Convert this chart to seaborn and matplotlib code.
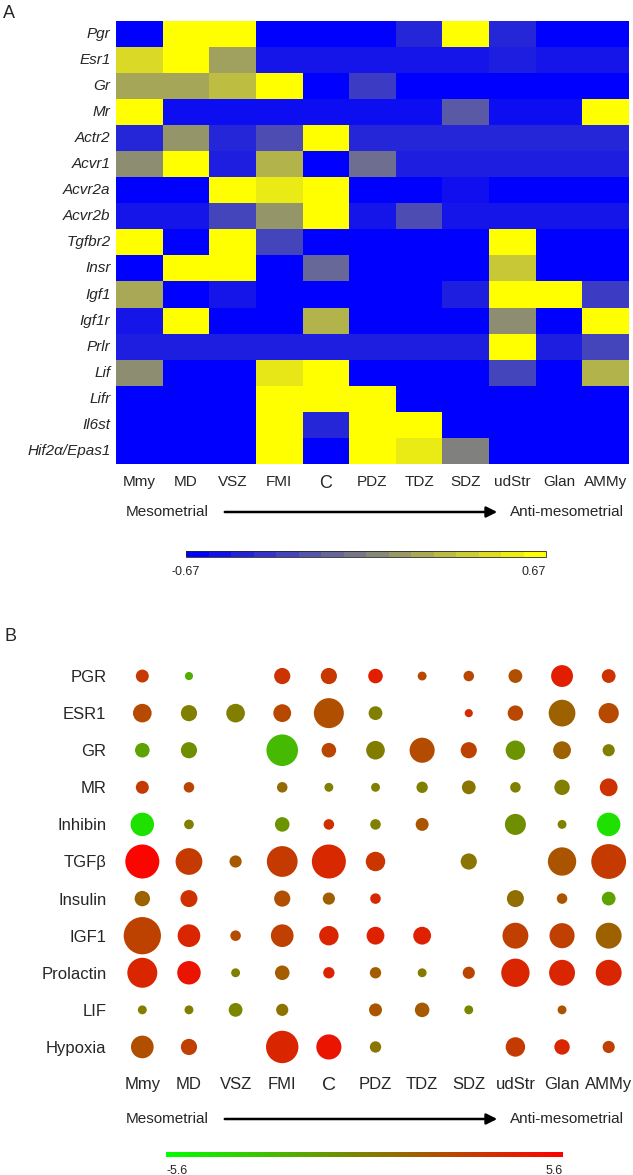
import numpy as np
import pandas as pd
import matplotlib
matplotlib.use("Agg")
import matplotlib.pyplot as plt
import seaborn as sns
from matplotlib.colors import LinearSegmentedColormap, Normalize
from matplotlib.cm import ScalarMappable

sns.set_style("white")
plt.rcParams["font.family"] = ["Liberation Sans", "DejaVu Sans"]

# ---------------- data ----------------
regions = ["Mmy", "MD", "VSZ", "FMI", "C", "PDZ", "TDZ", "SDZ", "udStr", "Glan", "AMMy"]

genes = ["Pgr", "Esr1", "Gr", "Mr", "Actr2", "Acvr1", "Acvr2a", "Acvr2b", "Tgfbr2",
         "Insr", "Igf1", "Igf1r", "Prlr", "Lif", "Lifr", "Il6st", "Hif2α/Epas1"]

h_pgr    = [-0.67, 0.67, 0.67, -0.67, -0.67, -0.67, -0.47, 0.67, -0.47, -0.67, -0.67]
h_esr1   = [0.47, 0.67, 0.17, -0.56, -0.56, -0.56, -0.56, -0.56, -0.51, -0.56, -0.56]
h_gr     = [0.20, 0.20, 0.32, 0.67, -0.67, -0.36, -0.67, -0.67, -0.67, -0.67, -0.67]
h_mr     = [0.67, -0.60, -0.60, -0.60, -0.60, -0.60, -0.60, -0.20, -0.60, -0.60, 0.67]
h_actr2  = [-0.47, 0.11, -0.47, -0.27, 0.67, -0.47, -0.47, -0.47, -0.47, -0.47, -0.47]
h_acvr1  = [0.07, 0.67, -0.51, 0.27, -0.67, -0.09, -0.51, -0.51, -0.51, -0.51, -0.51]
h_acvr2a = [-0.67, -0.67, 0.67, 0.56, 0.67, -0.67, -0.67, -0.59, -0.67, -0.67, -0.67]
h_acvr2b = [-0.56, -0.56, -0.31, 0.11, 0.67, -0.56, -0.27, -0.56, -0.56, -0.56, -0.56]
h_tgfbr2 = [0.67, -0.67, 0.67, -0.31, -0.67, -0.67, -0.67, -0.67, 0.67, -0.67, -0.67]
h_insr   = [-0.67, 0.67, 0.67, -0.67, -0.13, -0.67, -0.67, -0.67, 0.38, -0.67, -0.67]
h_igf1   = [0.21, -0.67, -0.56, -0.67, -0.67, -0.67, -0.67, -0.51, 0.67, 0.67, -0.36]
h_igf1r  = [-0.56, 0.67, -0.67, -0.67, 0.27, -0.67, -0.67, -0.67, 0.07, -0.67, 0.67]
h_prlr   = [-0.51, -0.51, -0.51, -0.51, -0.51, -0.51, -0.51, -0.51, 0.67, -0.51, -0.31]
h_lif    = [0.07, -0.67, -0.67, 0.54, 0.67, -0.67, -0.67, -0.67, -0.31, -0.67, 0.27]
h_lifr   = [-0.67, -0.67, -0.67, 0.67, 0.67, 0.67, -0.67, -0.67, -0.67, -0.67, -0.67]
h_il6st  = [-0.67, -0.67, -0.67, 0.67, -0.47, 0.67, 0.67, -0.67, -0.67, -0.67, -0.67]
h_hif2a  = [-0.67, -0.67, -0.67, 0.67, -0.67, 0.67, 0.56, 0.00, -0.67, -0.67, -0.67]

pathways = ["PGR", "ESR1", "GR", "MR", "Inhibin", "TGFβ", "Insulin", "IGF1",
            "Prolactin", "LIF", "Hypoxia"]
nan = np.nan
# colour value (-5.6 .. 5.6)
fc_pgr   = [3.02, -2.02, nan, 3.36, 3.14, 4.26, 2.46, 2.46, 2.13, 4.26, 3.36]
fc_esr1  = [2.35, 0.0, 0.0, 2.46, 2.13, 0.0, nan, 3.7, 2.46, 1.34, 2.35]
fc_gr    = [-1.57, -0.67, nan, -2.58, 2.58, 0.11, 2.24, 2.69, -0.9, 1.34, 0.0]
fc_mr    = [3.02, 2.58, nan, 0.9, 0.0, 0.0, 0.0, 0.45, 0.0, 0.0, 3.36]
fc_inhib = [-4.26, 0.0, nan, -0.9, 3.58, 0.0, 1.9, nan, -0.67, 0.0, -4.26]
fc_tgfb  = [5.38, 3.02, 1.68, 3.02, 3.81, 3.25, nan, 0.45, nan, 1.9, 3.02]
fc_ins   = [1.34, 3.47, nan, 2.13, 1.46, 3.81, nan, nan, 0.78, 1.9, -1.57]
fc_igf1  = [2.69, 3.92, 2.24, 2.8, 3.92, 4.14, 4.14, nan, 2.8, 2.8, 1.34]
fc_prl   = [3.92, 4.7, 0.0, 1.57, 4.03, 1.57, 0.22, 2.58, 3.92, 3.92, 3.92]
fc_lif   = [0.0, 0.0, -0.22, 0.56, nan, 1.9, 1.68, -0.22, nan, 1.9, nan]
fc_hyp   = [2.13, 2.8, nan, 3.92, 4.7, 0.45, nan, nan, 3.02, 3.92, 2.8]
# bubble magnitude
sg_pgr   = [1.68, 0.66, nan, 2.62, 2.62, 2.12, 0.79, 1.11, 1.90, 4.78, 1.90]
sg_esr1  = [3.47, 2.62, 3.47, 3.17, 8.98, 1.90, nan, 0.66, 2.37, 7.14, 4.10]
sg_gr    = [2.12, 2.62, nan, 9.97, 2.12, 3.47, 6.30, 2.62, 3.78, 3.17, 1.48]
sg_mr    = [1.68, 1.11, nan, 1.11, 0.79, 0.79, 1.29, 1.90, 1.11, 2.37, 3.17]
sg_inhib = [5.51, 0.94, nan, 2.12, 1.11, 1.11, 1.68, nan, 4.43, 0.79, 5.51]
sg_tgfb  = [11.57, 7.14, 1.48, 9.47, 11.57, 3.78, nan, 2.62, nan, 8.03, 12.12]
sg_ins   = [2.37, 2.89, nan, 2.62, 1.48, 1.11, nan, nan, 2.89, 1.11, 1.90]
sg_igf1  = [13.88, 5.14, 1.11, 5.14, 3.78, 3.17, 3.17, nan, 6.71, 6.30, 6.71]
sg_prl   = [8.98, 5.51, 0.79, 2.12, 1.29, 1.29, 0.79, 1.48, 8.03, 6.71, 6.71]
sg_lif   = [0.79, 0.79, 1.90, 1.48, nan, 1.68, 2.12, 0.79, nan, 0.79, nan]
sg_hyp   = [5.14, 2.62, nan, 10.49, 6.30, 1.29, nan, nan, 3.78, 2.37, 1.48]

heat_rows = [h_pgr, h_esr1, h_gr, h_mr, h_actr2, h_acvr1, h_acvr2a, h_acvr2b, h_tgfbr2,
             h_insr, h_igf1, h_igf1r, h_prlr, h_lif, h_lifr, h_il6st, h_hif2a]
fc_rows = [fc_pgr, fc_esr1, fc_gr, fc_mr, fc_inhib, fc_tgfb, fc_ins, fc_igf1, fc_prl, fc_lif, fc_hyp]
sg_rows = [sg_pgr, sg_esr1, sg_gr, sg_mr, sg_inhib, sg_tgfb, sg_ins, sg_igf1, sg_prl, sg_lif, sg_hyp]

dfA = pd.DataFrame(heat_rows, index=genes, columns=regions)

recs = []
for i, p in enumerate(pathways):
    for j, r in enumerate(regions):
        if not np.isnan(sg_rows[i][j]):
            recs.append(dict(pathway=p, region=r, yi=i, xi=j, fc=fc_rows[i][j], sig=sg_rows[i][j]))
dfB = pd.DataFrame(recs)

# ---------------- figure ----------------
W, H = 633, 1175
fig = plt.figure(figsize=(W / 100, H / 100), dpi=100)
fig.patch.set_facecolor("white")

def fx(px):
    return px / W

def fy(py):
    return 1 - py / H

cmapA = LinearSegmentedColormap.from_list("by", [(0, 0, 1), (1, 1, 0)])
cmapB = LinearSegmentedColormap.from_list("gr", [(0.0, 1.0, 0.0), (1.0, 0.0, 0.0)])

# ---- Panel A ----
axA = fig.add_axes([fx(116), fy(464), fx(629) - fx(116), (464 - 20.7) / H])
sns.heatmap(dfA, ax=axA, cmap=cmapA, vmin=-0.67, vmax=0.67, cbar=False,
            xticklabels=regions, yticklabels=genes)
axA.set_xlabel("")
axA.set_ylabel("")
axA.set_yticklabels(genes, rotation=0, fontstyle="italic", fontsize=11)
axA.set_xticklabels(regions, rotation=0, fontsize=11)
axA.tick_params(axis="x", length=0, pad=8)
axA.tick_params(axis="y", length=0, pad=4)
for t in axA.get_xticklabels():
    if t.get_text() == "C":
        t.set_fontsize(13)

fig.text(fx(3), fy(13), "A", fontsize=13, ha="left", va="center")

def axis_arrow(ycen, size):
    fig.text(fx(126), fy(ycen), "Mesometrial", fontsize=size, ha="left", va="center")
    fig.text(fx(510), fy(ycen), "Anti-mesometrial", fontsize=size, ha="left", va="center")
    fig.add_artist(matplotlib.patches.FancyArrowPatch(
        (fx(222), fy(ycen)), (fx(500), fy(ycen)), transform=fig.transFigure,
        arrowstyle="-|>", mutation_scale=16, lw=1.8, color="black"))

axis_arrow(512, 11)

caxA = fig.add_axes([fx(186), fy(557), fx(546) - fx(186), 6 / H])
cbA = fig.colorbar(ScalarMappable(Normalize(-0.67, 0.67), cmapA.resampled(16)),
                   cax=caxA, orientation="horizontal")
cbA.set_ticks([])
cbA.outline.set_linewidth(0.6)
caxA.text(0, -1.5, "-0.67", transform=caxA.transAxes, ha="center", va="top", fontsize=9)
caxA.text(1, -1.5, "0.67", transform=caxA.transAxes, ha="right", va="top", fontsize=9)

# ---- Panel B ----
axB = fig.add_axes([fx(119), fy(1065.5), fx(632) - fx(119), (1065.5 - 657.5) / H])
sns.scatterplot(data=dfB, x="xi", y="yi", hue="fc", size="sig", palette=cmapB,
                hue_norm=(-5.6, 5.6), size_norm=(0, 14), sizes=(0, 51.84 * 14),
                legend=False, ax=axB, linewidth=0, clip_on=False)
axB.set_xlim(-0.5, 10.5)
axB.set_ylim(10.5, -0.5)
axB.set_xticks(range(len(regions)))
axB.set_xticklabels(regions, fontsize=12)
axB.set_yticks(range(len(pathways)))
axB.set_yticklabels(pathways, fontsize=12)
for t in axB.get_xticklabels():
    if t.get_text() == "C":
        t.set_fontsize(14)
axB.tick_params(axis="x", length=0, pad=8)
axB.tick_params(axis="y", length=0, pad=9)
axB.set_xlabel("")
axB.set_ylabel("")
sns.despine(ax=axB, left=True, bottom=True)
axB.set_facecolor("none")

fig.text(fx(4), fy(636), "B", fontsize=13, ha="left", va="center")
axis_arrow(1119, 11)

caxB = fig.add_axes([fx(166), fy(1157), fx(563) - fx(166), 5 / H])
cbB = fig.colorbar(ScalarMappable(Normalize(-5.6, 5.6), cmapB), cax=caxB, orientation="horizontal")
cbB.set_ticks([])
cbB.outline.set_visible(False)
caxB.text(0, -1.6, "-5.6", transform=caxB.transAxes, ha="left", va="top", fontsize=9)
caxB.text(1, -1.6, "5.6", transform=caxB.transAxes, ha="right", va="top", fontsize=9)

fig.savefig("out.png", dpi=100, facecolor="white")
